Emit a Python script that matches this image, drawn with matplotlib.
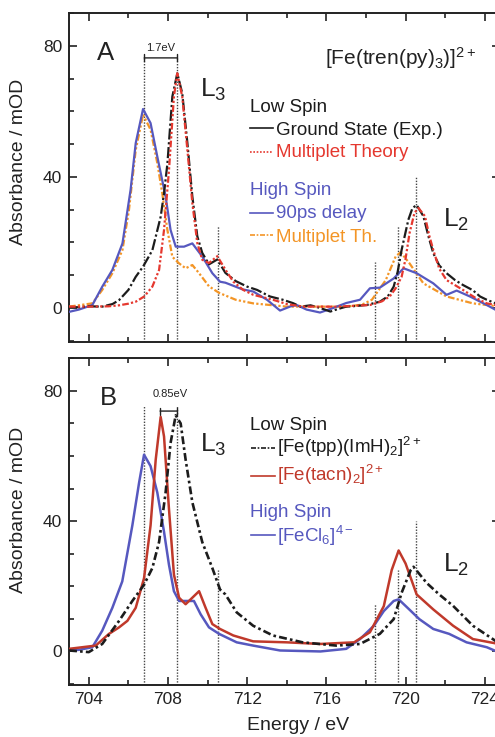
import matplotlib
matplotlib.use("Agg")
import matplotlib.pyplot as plt
from matplotlib.ticker import MultipleLocator

plt.rcParams['font.family'] = ['Liberation Sans', 'DejaVu Sans']
plt.rcParams['mathtext.fontset'] = 'custom'
plt.rcParams['mathtext.rm'] = 'Liberation Sans'
plt.rcParams['mathtext.it'] = 'Liberation Sans:italic'
plt.rcParams['mathtext.bf'] = 'Liberation Sans:bold'

# ---------------- Panel A data: [Fe(tren(py)3)]2+ ----------------
E_gs = [703.0, 703.5, 704.0, 704.68, 705.2, 705.53, 706.0, 706.37, 706.74, 707.21, 707.63, 707.8, 707.97,
        708.22, 708.47, 708.72, 708.98, 709.23, 709.48, 709.73, 710.07, 710.49, 710.9, 711.42, 712.0,
        712.5, 713.15, 713.8, 714.3, 714.7, 715.2, 715.68, 716.2, 716.6, 717.0, 717.5, 718.03, 718.7,
        719.1, 719.4, 719.6, 719.8, 720.14, 720.35, 720.56, 720.9, 721.15, 721.4, 721.7, 722.07, 722.5,
        722.9, 723.4, 723.76, 724.1, 724.8]
A_gs = [0.3, 0.2, 0.5, 0.4, 1.2, 2.4, 5.5, 9.5, 12.6, 17.6, 27.8, 35.0, 44.0,
        64.5, 71.6, 65.5, 50.3, 34.0, 21.9, 16.8, 13.3, 14.8, 10.7, 8.2, 6.5,
        5.5, 3.5, 2.5, 1.5, 0.4, 0.8, 0.0, -1.1, -0.3, 0.4, 0.6, 0.9, 1.9,
        3.5, 6.5, 11.0, 17.7, 26.9, 30.5, 31.4, 28.0, 22.0, 16.7, 13.0, 10.6, 8.5,
        7.0, 5.4, 3.5, 2.5, 0.8]

E_lsth = [703.0, 704.0, 705.0, 705.53, 706.0, 706.37, 706.8, 707.21, 707.55, 707.8, 708.05, 708.3,
          708.47, 708.72, 708.98, 709.23, 709.48, 709.73, 710.07, 710.49, 710.9, 711.3, 711.8, 712.31,
          713.3, 714.0, 714.8, 716.5, 718.2, 718.8, 719.2, 719.5, 719.8, 720.0, 720.2, 720.45, 720.65,
          720.98, 721.2, 721.4, 721.7, 722.07, 722.9, 723.5, 724.1, 724.8]
A_lsth = [0.4, 0.4, 0.5, 0.8, 1.3, 1.9, 3.5, 6.5, 11.6, 23.8, 42.0, 64.5,
          71.6, 64.5, 48.2, 32.0, 19.8, 14.7, 13.7, 15.8, 11.7, 8.0, 5.5, 4.0,
          2.5, 1.2, 0.4, 0.4, 0.9, 2.0, 3.5, 6.0, 9.5, 15.0, 22.8, 29.0, 30.5,
          28.0, 22.0, 17.7, 12.0, 8.5, 5.5, 3.2, 1.4, 0.6]

E_hs = [703.0, 703.5, 704.18, 704.68, 705.19, 705.7, 706.11, 706.37, 706.74, 707.12, 707.46, 707.88,
        708.13, 708.39, 708.81, 709.23, 709.73, 710.24, 710.63, 710.9, 711.75, 712.31, 713.0, 713.66,
        714.2, 714.5, 715.0, 715.68, 716.35, 717.0, 717.7, 718.2, 718.7, 719.4, 719.9, 720.56, 721.4,
        722.07, 722.58, 723.25, 724.1, 724.8]
A_hs = [-1.2, -0.5, 0.9, 6.5, 11.6, 19.7, 36.0, 50.3, 60.7, 56.4, 46.2, 34.0,
        23.8, 18.7, 18.7, 19.7, 15.7, 10.6, 8.0, 7.7, 5.7, 5.0, 2.5, -0.8,
        0.5, 0.9, -0.5, -1.4, 0.0, 1.5, 2.5, 6.0, 6.2, 9.0, 12.1, 10.6, 7.5,
        4.0, 5.3, 3.5, 0.9, -1.4]

E_hsth = [703.0, 704.18, 704.68, 705.19, 705.7, 706.03, 706.37, 706.74, 707.12, 707.46, 707.71, 707.97,
          708.22, 708.56, 708.89, 709.23, 709.57, 710.07, 710.58, 711.42, 712.3, 714.0, 717.0, 717.8,
          718.3, 719.0, 719.5, 719.75, 720.2, 720.9, 722.07, 723.4, 724.8]
A_hsth = [0.4, 1.4, 5.5, 10.6, 17.7, 30.0, 48.2, 59.0, 54.4, 44.2, 35.0, 23.8,
          15.6, 13.6, 12.1, 13.1, 10.6, 6.6, 4.6, 2.5, 1.4, 0.4, 0.4, 1.0,
          2.5, 8.5, 15.7, 17.0, 13.6, 7.5, 3.5, 1.4, 0.4]

# ---------------- Panel B data ----------------
E_tpp = [703.0, 704.0, 704.68, 705.53, 706.2, 706.79, 707.21, 707.55, 707.88, 708.13, 708.39, 708.64,
         708.89, 709.23, 709.73, 710.24, 710.63, 710.9, 711.47, 712.3, 713.3, 714.8, 716.5, 717.7,
         718.7, 719.4, 719.8, 720.26, 720.4, 721.07, 721.7, 722.4, 723.4, 724.8]
A_tpp = [0.3, -0.2, 2.3, 9.4, 15.5, 20.5, 25.6, 33.6, 48.8, 64.0, 72.5, 70.0,
         58.9, 45.8, 33.6, 25.6, 19.0, 17.5, 12.0, 7.9, 4.9, 2.8, 1.8, 2.3,
         5.4, 9.9, 18.0, 25.0, 26.0, 21.0, 17.5, 14.0, 7.9, 2.2]

E_tacn = [703.0, 704.35, 705.02, 705.53, 705.95, 706.37, 706.79, 707.12, 707.38, 707.63, 707.8, 708.05,
          708.3, 708.56, 708.89, 709.23, 709.57, 709.9, 710.24, 710.63, 711.3, 712.3, 714.0, 715.7,
          717.4, 718.2, 718.9, 719.3, 719.65, 720.0, 720.56, 721.4, 722.4, 723.4, 724.8]
A_tacn = [0.8, 1.8, 5.4, 7.4, 9.4, 13.4, 22.5, 38.7, 58.9, 72.0, 66.0, 43.7,
          23.6, 16.5, 14.5, 16.5, 18.5, 13.4, 8.4, 6.9, 4.9, 3.1, 2.8, 2.3,
          2.8, 5.9, 13.9, 25.0, 31.0, 27.0, 17.5, 12.9, 7.9, 3.8, 2.2]

E_cl6 = [703.0, 703.5, 704.18, 704.68, 705.19, 705.69, 706.2, 706.54, 706.79, 707.12, 707.46, 707.8,
         708.05, 708.3, 708.56, 708.98, 709.31, 709.65, 710.07, 710.58, 711.47, 712.3, 713.66, 715.7,
         717.0, 717.7, 718.4, 718.9, 719.4, 719.65, 720.1, 720.7, 721.4, 722.2, 723.08, 724.1, 724.8]
A_cl6 = [0.3, 0.5, 1.3, 6.4, 13.4, 21.5, 38.7, 51.8, 60.4, 56.9, 48.8, 36.7,
         26.6, 18.5, 15.5, 15.5, 15.5, 11.4, 7.4, 5.4, 2.8, 1.8, 0.3, 0.0,
         0.8, 3.8, 7.9, 12.4, 15.5, 16.0, 13.4, 9.9, 6.9, 5.4, 2.8, 1.3, -0.5]

# reference lines
ref_E = [706.8, 708.47, 710.52, 718.45, 719.62, 720.52]
ref_top_A = [76.3, 76.3, 25.0, 14.0, 25.0, 40.0]
ref_top_B = [75.5, 75.5, 25.0, 14.5, 25.0, 40.0]

C_BLACK = '#1c1c1c'
C_RED = '#e5382f'
C_BLUE = '#5658bf'
C_ORANGE = '#f39526'
C_DRED = '#c0392b'
C_TXT = '#222222'

fig = plt.figure(figsize=(4.95, 7.37), dpi=100)
W, H = 495.0, 737.0
left = 69 / W
width = 431 / W
axA = fig.add_axes([left, 1 - 341.7 / H, width, (341.7 - 13) / H])
axB = fig.add_axes([left, 1 - 685 / H, width, (685 - 358.3) / H])

for ax in (axA, axB):
    ax.set_xlim(703, 724.77)
    ax.set_ylim(-10.3, 90)
    ax.xaxis.set_major_locator(MultipleLocator(4))
    ax.xaxis.set_minor_locator(MultipleLocator(2))
    ax.yaxis.set_major_locator(MultipleLocator(40))
    ax.yaxis.set_minor_locator(MultipleLocator(10))
    ax.tick_params(which='both', direction='in', top=True, right=True, width=1.2,
                   labelsize=12.5, colors=C_TXT)
    ax.tick_params(which='major', length=6, pad=5)
    ax.tick_params(which='minor', length=3.5)
    for s in ax.spines.values():
        s.set_linewidth(1.4)
        s.set_color(C_TXT)
    ax.set_ylabel('Absorbance / mOD', fontsize=14, color=C_TXT)
    ax.vlines(ref_E, -10.3, ref_top_A if ax is axA else ref_top_B,
              colors='#444444', linestyles=(0, (1, 1.1)), linewidth=1.0, zorder=1)

axA.yaxis.set_label_coords(-0.097, 0.547)
axB.yaxis.set_label_coords(-0.097, 0.536)
axA.tick_params(labelbottom=False)
axB.set_xlabel('Energy / eV', fontsize=14, color=C_TXT)
axB.xaxis.set_label_coords(0.531, -0.097)

# ---- Panel A curves
axA.plot(E_hsth, A_hsth, color=C_ORANGE, lw=1.6, ls=(0, (3, 1, 1, 1, 1, 1)), zorder=3)
axA.plot(E_hs, A_hs, color=C_BLUE, lw=1.6, zorder=3)
axA.plot(E_gs, A_gs, color=C_BLACK, lw=1.6, ls=(0, (5, 1.2, 1, 1.2)), zorder=4)
axA.plot(E_lsth, A_lsth, color=C_RED, lw=1.6, ls=(0, (3, 1, 1, 1, 1, 1)), zorder=5)

# ---- Panel B curves
axB.plot(E_cl6, A_cl6, color=C_BLUE, lw=1.8, zorder=3)
axB.plot(E_tacn, A_tacn, color=C_DRED, lw=1.8, zorder=4)
axB.plot(E_tpp, A_tpp, color=C_BLACK, lw=1.9, ls=(0, (3, 1.2, 1, 1.2)), zorder=5)

LEG_FS = 13.5

# ---- annotations panel A
axA.text(704.4, 75.6, 'A', fontsize=18.5, color=C_TXT)
axA.text(709.6, 64.4, r'L$_3$', fontsize=19, color=C_TXT)
axA.text(721.87, 24.7, r'L$_2$', fontsize=19, color=C_TXT)
axA.text(707.63, 79.3, '1.7eV', fontsize=8, ha='center', va='center', color=C_TXT)
axA.annotate('', xy=(706.8, 76.3), xytext=(708.47, 76.3),
             arrowprops=dict(arrowstyle='|-|, widthA=0.25, widthB=0.25', lw=1.0, color=C_TXT,
                             shrinkA=0, shrinkB=0))
axA.text(715.93, 74.2, r'[Fe(tren(py)$_3$)]$^{2+}$', fontsize=15, color=C_TXT)

legA = [('Low Spin', None, C_BLACK, 59.9, None),
        ('Ground State (Exp.)', '-', C_BLACK, 52.8, 54.9),
        ('Multiplet Theory', (0, (1, 1)), C_RED, 46.2, 47.7),
        ('High Spin', None, C_BLUE, 34.5, None),
        ('90ps delay', '-', C_BLUE, 27.4, 28.9),
        ('Multiplet Th.', (0, (3, 1, 1, 1)), C_ORANGE, 20.2, 22.3)]
for txt, ls, col, yb, yl in legA:
    if ls is None:
        axA.text(712.14, yb, txt, fontsize=LEG_FS, color=col)
    else:
        axA.plot([712.14, 713.32], [yl, yl], color=col, ls=ls, lw=1.2)
        axA.text(713.45, yb, txt, fontsize=LEG_FS, color=col)

# ---- annotations panel B
axB.text(704.57, 75.6, 'B', fontsize=18.5, color=C_TXT)
axB.text(709.6, 61.4, r'L$_3$', fontsize=19, color=C_TXT)
axB.text(721.9, 24.5, r'L$_2$', fontsize=19, color=C_TXT)
axB.text(708.1, 79.0, '0.85eV', fontsize=8, ha='center', va='center', color=C_TXT)
axB.annotate('', xy=(707.6, 73.8), xytext=(708.47, 73.8),
             arrowprops=dict(arrowstyle='|-|, widthA=0.25, widthB=0.25', lw=1.0, color=C_TXT,
                             shrinkA=0, shrinkB=0))

legB = [('Low Spin', None, C_BLACK, 68.0, None),
        (r'[Fe(tpp)(ImH)$_2$]$^{2+}$', (0, (3, 1, 1, 1)), C_BLACK, 60.9, 62.4),
        (r'[Fe(tacn)$_2$]$^{2+}$', '-', C_DRED, 52.3, 53.8),
        ('High Spin', None, C_BLUE, 41.2, None),
        (r'[FeCl$_6$]$^{4-}$', '-', C_BLUE, 33.6, 35.7)]
for txt, ls, col, yb, yl in legB:
    if ls is None:
        axB.text(712.14, yb, txt, fontsize=LEG_FS, color=col)
    else:
        axB.plot([712.2, 713.4], [yl, yl], color=col, ls=ls, lw=1.2)
        axB.text(713.5, yb, txt, fontsize=LEG_FS, color=col)

fig.savefig('out.png', dpi=100)
